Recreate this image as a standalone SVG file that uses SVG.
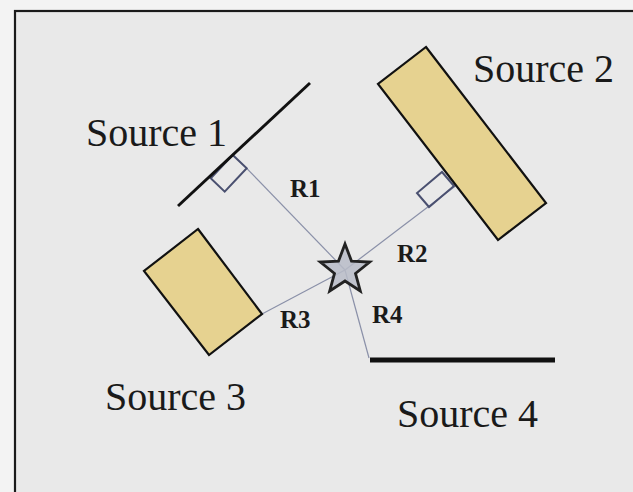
<svg xmlns="http://www.w3.org/2000/svg" width="633" height="492" viewBox="0 0 633 492">
  <style>
    .src { font-family: "Liberation Serif", "Times New Roman", serif; font-size: 40px; fill: #1a1a1a; }
    .lbl { font-family: "Liberation Serif", "Times New Roman", serif; font-size: 25px; font-weight: bold; fill: #1a1a1a; }
    .ray { stroke: #8a90a8; stroke-width: 1.2; fill: none; }
    .mark { stroke: #4a5070; stroke-width: 2; fill: none; }
    .panel { fill: #e6d290; stroke: #111; stroke-width: 2.2; stroke-linejoin: miter; }
  </style>
  <rect x="0" y="0" width="633" height="492" fill="#f3f3f3"/>
  <rect id="frame" x="15" y="11" width="640" height="500" fill="#e9e9e9" stroke="#1a1a1a" stroke-width="2.2"/>

  <g id="connectors">
    <line class="ray" x1="246.7" y1="168.3" x2="345" y2="270"/>
    <line class="ray" x1="462" y1="181" x2="345" y2="270"/>
    <line class="ray" x1="262" y1="314" x2="345" y2="270"/>
    <line class="ray" x1="345" y1="270" x2="369" y2="358"/>
    <polygon class="mark" points="232.7,155 210.7,178.3 224.7,191.6 246.7,168.3"/>
    <polygon class="mark" points="454,186 442,172 417,193 429,207"/>
  </g>

  <g id="source1">
    <line x1="178" y1="206" x2="310" y2="83" stroke="#111" stroke-width="3"/>
    <text class="src" x="86" y="146">Source 1</text>
  </g>

  <g id="source2">
    <polygon class="panel" points="426,47 546,203 498,240 378,84"/>
    <text class="src" x="473" y="82">Source 2</text>
  </g>

  <g id="source3">
    <polygon class="panel" points="198,229 262,314 209,355 144,271"/>
    <text class="src" x="105" y="410">Source 3</text>
  </g>

  <g id="source4">
    <line x1="370" y1="360" x2="555" y2="360" stroke="#111" stroke-width="5"/>
    <text class="src" x="397" y="427">Source 4</text>
  </g>

  <g id="receiver">
    <polygon points="345,244 351.5,261.1 369.7,262 355.5,273.4 360.3,291 345,281 329.7,291 334.5,273.4 320.3,262 338.5,261.1" fill="#b8bcc8" fill-opacity="0.85" stroke="#222" stroke-width="2.8" stroke-linejoin="miter"/>
  </g>

  <g id="labels">
    <text class="lbl" x="290" y="197">R1</text>
    <text class="lbl" x="397" y="262">R2</text>
    <text class="lbl" x="280" y="328">R3</text>
    <text class="lbl" x="372" y="323">R4</text>
  </g>
</svg>
